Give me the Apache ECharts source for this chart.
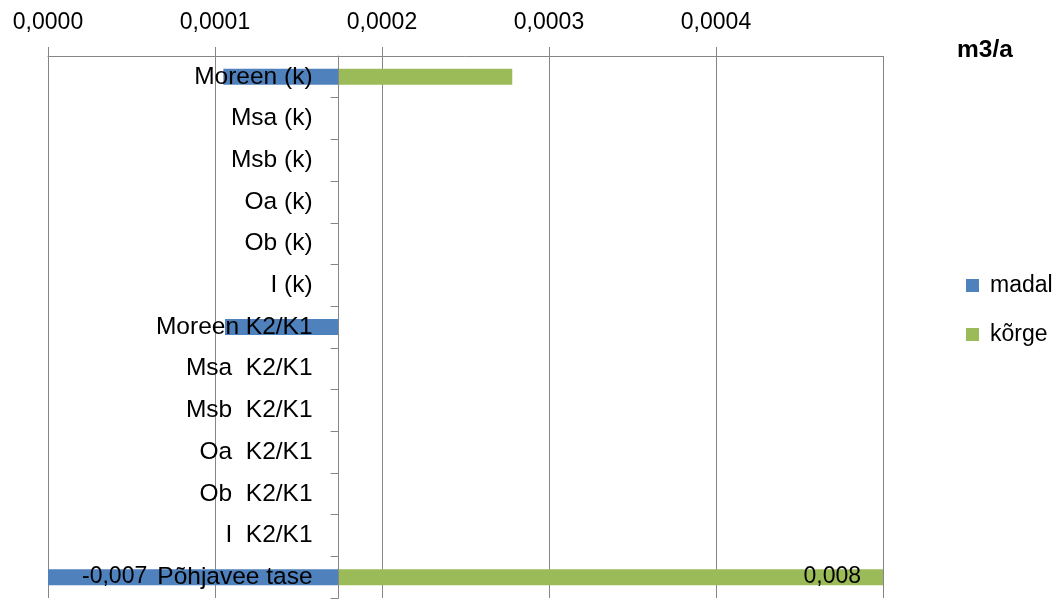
<!DOCTYPE html>
<html>
<head>
<meta charset="utf-8">
<script src="https://cdn.jsdelivr.net/npm/echarts@6/dist/echarts.min.js"></script>
<style>
  html, body { margin: 0; padding: 0; background: #fff; }
  #main { width: 1054px; height: 602px; }
</style>
</head>
<body>
<div id="main"></div>
<script>
// andmed
var categories = ['Moreen (k)', 'Msa (k)', 'Msb (k)', 'Oa (k)', 'Ob (k)', 'I (k)',
  'Moreen K2/K1', 'Msa  K2/K1', 'Msb  K2/K1', 'Oa  K2/K1', 'Ob  K2/K1', 'I  K2/K1', 'Põhjavee tase'];
var madal = [0.000105, null, null, null, null, null, 0.000106, null, null, null, null, null, -0.007];
var korge = [0.000278, null, null, null, null, null, null, null, null, null, null, null, 0.008];
var axisCross = 0.000174; // kus kategooriatelg lõikab väärtustelge
var xMin = 0, xMax = 0.0005, xStep = 0.0001;
var labelRows = ['Põhjavee tase'];

var blue = '#4F81BD', green = '#9BBB59', gray = '#868686';

function fmt(v) { return String(v).replace('.', ','); }

// tulbad algavad telje lõikepunktist, seepärast virnastatud abiseeria
var base = [], lowLen = [], highLen = [];
categories.forEach(function (c, i) {
  if (madal[i] == null && korge[i] == null) {
    base.push(null); lowLen.push(null); highLen.push(null); return;
  }
  var start = madal[i] == null ? axisCross : Math.max(Math.min(madal[i], axisCross), xMin);
  base.push(start);
  var showLbl = labelRows.indexOf(c) >= 0;
  lowLen.push(madal[i] == null ? null : {
    value: axisCross - start,
    label: { show: showLbl, position: 'insideLeft', distance: 34,
      formatter: function () { return fmt(madal[i]); } }
  });
  highLen.push(korge[i] == null ? null : {
    value: Math.min(korge[i], xMax) - axisCross,
    label: { show: showLbl, position: 'insideRight', distance: 22,
      formatter: function () { return fmt(korge[i]); } }
  });
});

var chart = echarts.init(document.getElementById('main'));
var option = {
  animation: false,
  textStyle: { fontFamily: 'Liberation Sans' },
  title: {
    text: 'm3/a', left: 952, top: 33,
    textStyle: { fontSize: 24.5, fontWeight: 'bold', color: '#000', fontFamily: 'Liberation Sans' }
  },
  legend: {
    orient: 'vertical', left: 966, top: 274, padding: 0,
    itemWidth: 13, itemHeight: 13, itemGap: 26,
    icon: 'rect',
    data: ['madal', 'kõrge'],
    textStyle: { fontSize: 23, color: '#000', padding: [0, 0, 0, 6] }
  },
  grid: { left: 48, right: 171, top: 56, bottom: 4, outerBoundsMode: 'none' },
  xAxis: {
    type: 'value', position: 'top',
    min: xMin, max: xMax, interval: xStep,
    axisLine: { show: true, lineStyle: { color: gray, width: 1 } },
    axisTick: { show: true, length: 9, lineStyle: { color: gray } },
    axisLabel: {
      showMaxLabel: false, margin: 22, fontSize: 23, color: '#000',
      formatter: function (v) { return v.toFixed(4).replace('.', ','); }
    },
    splitLine: { show: true, lineStyle: { color: gray, width: 1 } }
  },
  yAxis: {
    type: 'category', inverse: true, data: categories, z: 5,
    axisLine: { show: true, lineStyle: { color: gray, width: 1 } },
    axisTick: { show: true, length: 8, lineStyle: { color: gray } },
    axisLabel: { margin: 26, fontSize: 24.5, color: '#000' },
    splitLine: { show: false }
  },
  series: [
    { name: 'abi', type: 'bar', stack: 'a', barWidth: 16, silent: true,
      itemStyle: { color: 'transparent' }, data: base },
    { name: 'madal', type: 'bar', stack: 'a', barWidth: 16,
      itemStyle: { color: blue },
      label: { color: '#000', fontSize: 23 }, data: lowLen },
    { name: 'kõrge', type: 'bar', stack: 'a', barWidth: 16,
      itemStyle: { color: green },
      label: { color: '#000', fontSize: 23 }, data: highLen }
  ]
};
chart.setOption(option);

// kategooriatelg nihutatakse lõikepunkti
var crossPx = chart.convertToPixel({ xAxisIndex: 0 }, axisCross);
var leftPx = chart.convertToPixel({ xAxisIndex: 0 }, xMin);
chart.setOption({ yAxis: { offset: -(crossPx - leftPx) } });
</script>
</body>
</html>
